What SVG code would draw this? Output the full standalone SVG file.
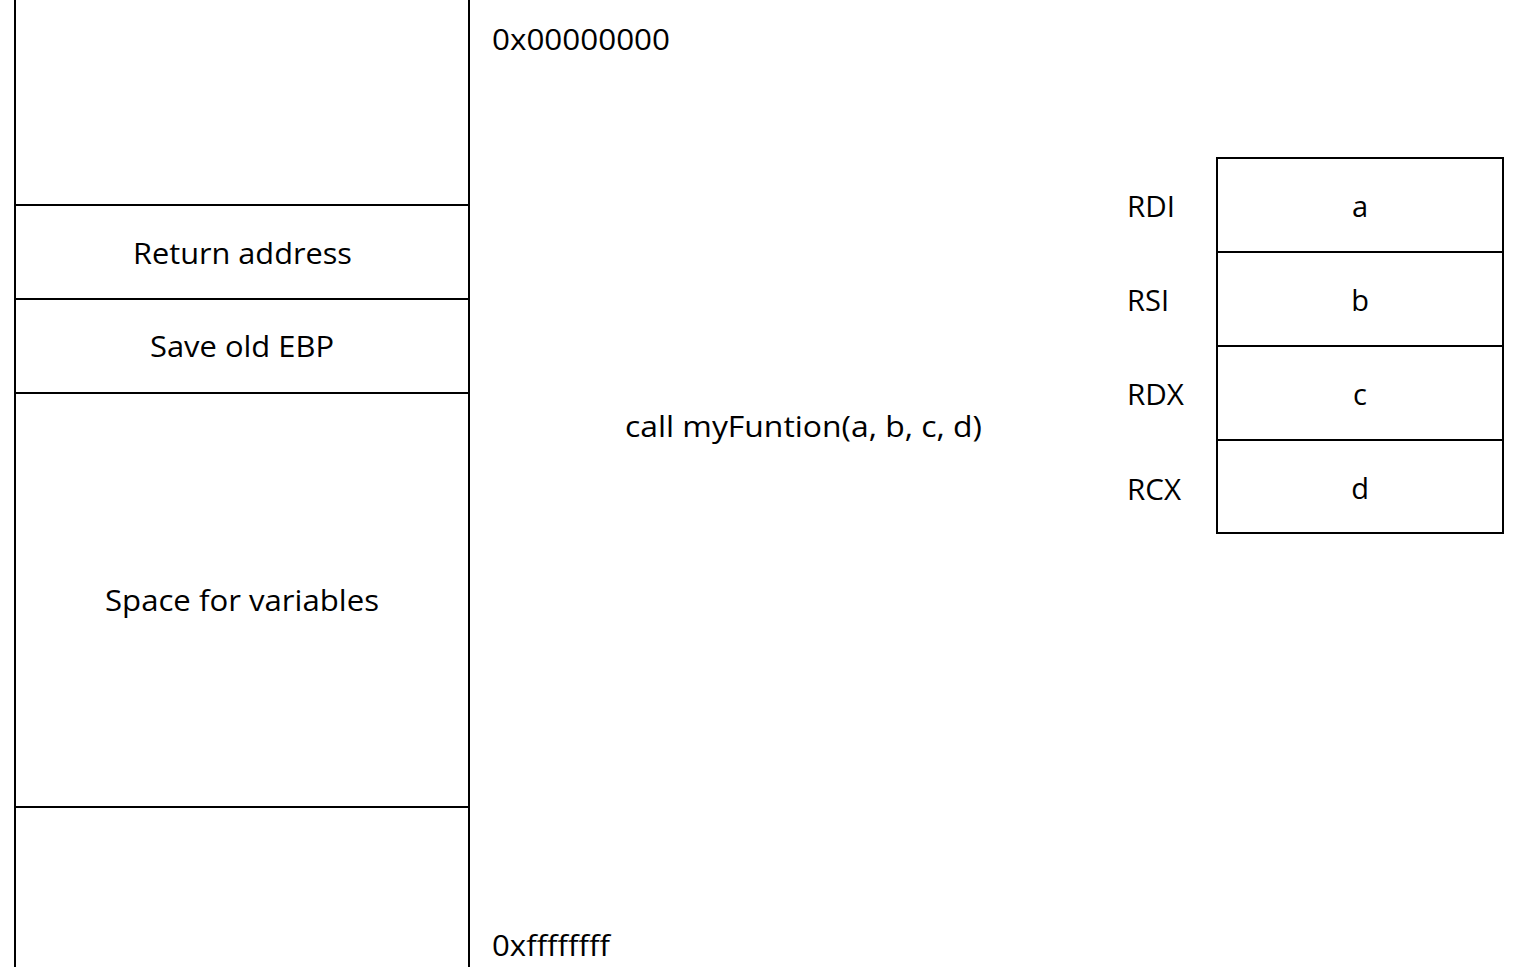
<svg xmlns="http://www.w3.org/2000/svg" width="1524" height="967" viewBox="0 0 1524 967">
<style>
.ln{stroke:#000;stroke-width:2;fill:none}
.t{font-family:"Open Sans","Noto Sans","Liberation Sans",sans-serif;font-size:29px;fill:#000}
.c{text-anchor:middle}
</style>
<rect width="1524" height="967" fill="#fff"/>
<g id="stack">
<line class="ln" x1="15" y1="0" x2="15" y2="967"/>
<line class="ln" x1="469" y1="0" x2="469" y2="967"/>
<line class="ln" x1="15" y1="205" x2="469" y2="205"/>
<line class="ln" x1="15" y1="299" x2="469" y2="299"/>
<line class="ln" x1="15" y1="393" x2="469" y2="393"/>
<line class="ln" x1="15" y1="807" x2="469" y2="807"/>
</g>
<g id="ret"><text class="t" x="133" y="264" textLength="219" lengthAdjust="spacingAndGlyphs">Return address</text></g>
<g id="ebp"><text class="t" x="150" y="357" textLength="184" lengthAdjust="spacingAndGlyphs">Save old EBP</text></g>
<g id="vars"><text class="t" x="105" y="611" textLength="274" lengthAdjust="spacingAndGlyphs">Space for variables</text></g>
<g id="addr0"><text class="t" x="492" y="50" textLength="178" lengthAdjust="spacingAndGlyphs">0x00000000</text></g>
<g id="addrf"><text class="t" x="492" y="956" textLength="118" lengthAdjust="spacingAndGlyphs">0xffffffff</text></g>
<g id="call"><text class="t" x="625" y="437" textLength="357" lengthAdjust="spacingAndGlyphs">call myFuntion(a, b, c, d)</text></g>
<g id="regs">
<rect class="ln" x="1217" y="158" width="286" height="375"/>
<line class="ln" x1="1217" y1="252" x2="1503" y2="252"/>
<line class="ln" x1="1217" y1="346" x2="1503" y2="346"/>
<line class="ln" x1="1217" y1="440" x2="1503" y2="440"/>
<text class="t" x="1127" y="217" textLength="48" lengthAdjust="spacingAndGlyphs">RDI</text>
<text class="t" x="1127" y="311" textLength="42" lengthAdjust="spacingAndGlyphs">RSI</text>
<text class="t" x="1127" y="405" textLength="57" lengthAdjust="spacingAndGlyphs">RDX</text>
<text class="t" x="1127" y="500" textLength="54" lengthAdjust="spacingAndGlyphs">RCX</text>
<text class="t c" x="1360" y="217">a</text>
<text class="t c" x="1360" y="311">b</text>
<text class="t c" x="1360" y="405">c</text>
<text class="t c" x="1360" y="499">d</text>
</g>
</svg>
